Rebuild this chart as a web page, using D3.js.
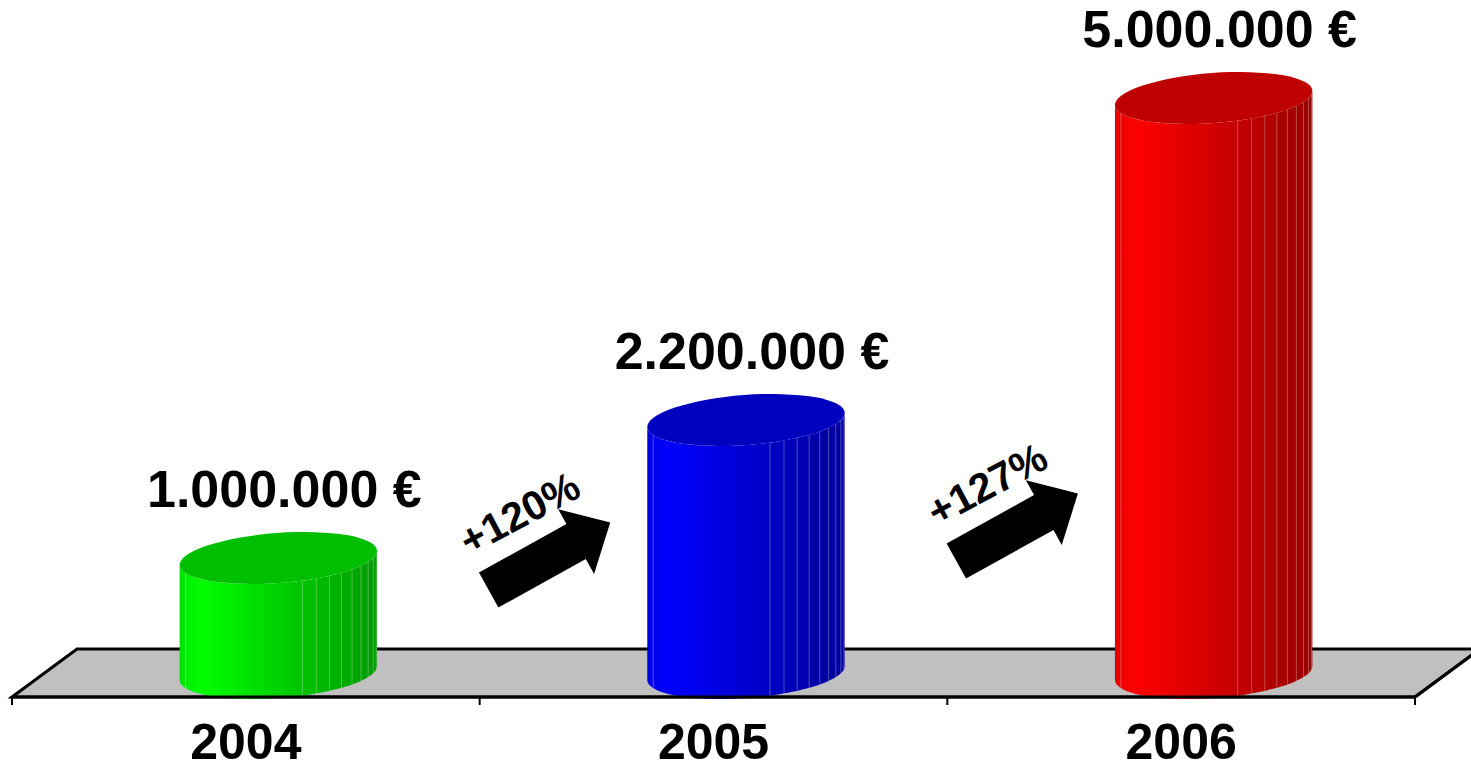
<!DOCTYPE html>
<html>
<head>
<meta charset="utf-8">
<script src="https://cdn.jsdelivr.net/npm/d3@7"></script>
<style>
  body { margin: 0; background: #fff; }
  svg { display: block; font-family: "Liberation Sans", Arial, sans-serif; }
</style>
</head>
<body>
<svg id="chart" width="1471" height="771"></svg>
<script>
// data
const years = ["2004", "2005", "2006"];
const revenue = [1000000, 2200000, 5000000];
const barColors = ["#00ff00", "#0000ff", "#ff0000"];

// layout
const floorLeft = 12, floorRight = 1415, floorFront = 697;
const depthX = 65, depthY = 48;
const rx = 99, ry = 25, tilt = -4.3 * Math.PI / 180;
const arrowBaseY = [590, 561];

const svg = d3.select("#chart");
const defs = svg.append("defs");

const x = d3.scaleBand().domain(years).range([floorLeft, floorRight]);
const y = d3.scaleLinear()
    .domain([0, d3.max(revenue)])
    .range([floorFront - depthY / 2, 98]);

const euro = d3.formatLocale({
    decimal: ",", thousands: ".", grouping: [3], currency: ["", " €"]
}).format("$,");
const pct = d3.format("+.0%");

const cxOf = d => x(d) + x.bandwidth() / 2 + depthX / 2;

// point on tilted ellipse
function ep(cx, cy, t) {
    return [
        cx + rx * Math.cos(t) * Math.cos(tilt) - ry * Math.sin(t) * Math.sin(tilt),
        cy + rx * Math.cos(t) * Math.sin(tilt) + ry * Math.sin(t) * Math.cos(tilt)
    ];
}

// floor
svg.append("path")
    .attr("d", d3.line()([
        [floorLeft, floorFront],
        [floorLeft + depthX, floorFront - depthY],
        [floorRight + depthX, floorFront - depthY],
        [floorRight, floorFront]
    ]) + "Z")
    .attr("fill", "#c0c0c0")
    .attr("stroke", "#000")
    .attr("stroke-width", 3)
    .attr("stroke-linejoin", "miter");

// shading across the front of a cylinder, f = 0 left .. 1 right
function light(f) {
    if (f < 0.1) return 0.88 + 1.2 * f;
    return 1 - 0.4 * (f - 0.1) / 0.9;
}
const shade = (c, k) => {
    const r = d3.rgb(c);
    return d3.rgb(r.r * k, r.g * k, r.b * k).formatHex();
};
const fOf = a => (1 - Math.cos(a)) / 2;
const smoothEnd = 103 * Math.PI / 180;
const facetCount = 9;
const facetAngles = d3.range(facetCount + 1).map(k => smoothEnd + k * (Math.PI - smoothEnd) / facetCount);

const bars = svg.selectAll(".bar")
    .data(years.map((d, i) => ({ year: d, value: revenue[i], color: barColors[i], i })))
    .join("g")
    .attr("class", "bar");

bars.each(function (d) {
    const g = d3.select(this);
    const cx = cxOf(d.year);
    const yTop = y(d.value), yBot = y(0);

    // gradient
    const grad = defs.append("linearGradient")
        .attr("id", "grad" + d.i)
        .attr("gradientUnits", "userSpaceOnUse")
        .attr("x1", cx - rx).attr("x2", cx + rx)
        .attr("y1", 0).attr("y2", 0);
    d3.range(0, smoothEnd + 0.001, smoothEnd / 12).forEach(a => {
        grad.append("stop").attr("offset", fOf(a)).attr("stop-color", shade(d.color, light(fOf(a))));
    });
    for (let k = 0; k < facetCount; k++) {
        const a0 = facetAngles[k], a1 = facetAngles[k + 1];
        const c = shade(d.color, light(fOf((a0 + a1) / 2)));
        grad.append("stop").attr("offset", fOf(a0)).attr("stop-color", c);
        grad.append("stop").attr("offset", fOf(a1)).attr("stop-color", c);
    }

    // body
    const ts = d3.range(0, 61).map(k => Math.PI - k * Math.PI / 60);
    const pts = [ep(cx, yTop, Math.PI)]
        .concat(ts.map(t => ep(cx, yBot, t)))
        .concat(ts.slice().reverse().map(t => ep(cx, yTop, t)));
    g.append("path")
        .attr("d", d3.line()(pts) + "Z")
        .attr("fill", `url(#grad${d.i})`);

    // facet edges
    const edges = [19 * Math.PI / 180].concat(facetAngles.slice(0, facetCount));
    g.selectAll(".edge")
        .data(edges)
        .join("line")
        .attr("class", "edge")
        .attr("x1", a => ep(cx, yTop, Math.PI - a)[0])
        .attr("y1", a => ep(cx, yTop, Math.PI - a)[1])
        .attr("x2", a => ep(cx, yBot, Math.PI - a)[0])
        .attr("y2", a => ep(cx, yBot, Math.PI - a)[1])
        .attr("stroke", "#fff")
        .attr("stroke-opacity", 0.3)
        .attr("stroke-width", 1);

    // top
    g.append("ellipse")
        .attr("cx", 0).attr("cy", 0)
        .attr("rx", rx).attr("ry", ry)
        .attr("transform", `translate(${cx},${yTop}) rotate(${tilt * 180 / Math.PI})`)
        .attr("fill", shade(d.color, 0.75));

    // value label
    g.append("text")
        .attr("x", cx + 6)
        .attr("y", yTop - 51)
        .attr("text-anchor", "middle")
        .attr("font-size", 52)
        .attr("font-weight", "bold")
        .text(euro(d.value));
});

// axis line and ticks
svg.append("line")
    .attr("x1", floorLeft).attr("x2", floorRight)
    .attr("y1", floorFront).attr("y2", floorFront)
    .attr("stroke", "#000").attr("stroke-width", 3);

svg.selectAll(".tick")
    .data(years.map(d => x(d)).concat([x.range()[1]]))
    .join("line")
    .attr("class", "tick")
    .attr("x1", d => d).attr("x2", d => d)
    .attr("y1", floorFront).attr("y2", floorFront + 8)
    .attr("stroke", "#000").attr("stroke-width", 2);

svg.append("line")
    .attr("x1", floorRight).attr("y1", floorFront)
    .attr("x2", floorRight + depthX).attr("y2", floorFront - depthY)
    .attr("stroke", "#000").attr("stroke-width", 3);

svg.selectAll(".year")
    .data(years)
    .join("text")
    .attr("class", "year")
    .attr("x", d => x(d) + x.bandwidth() / 2)
    .attr("y", 759)
    .attr("text-anchor", "middle")
    .attr("font-size", 50)
    .attr("font-weight", "bold")
    .text(d => d);

// growth arrows
const growth = revenue.slice(1).map((v, i) => ({ year: years[i + 1], rate: v / revenue[i] - 1, i }));

const arrows = svg.selectAll(".growth")
    .data(growth)
    .join("g")
    .attr("class", "growth")
    .attr("transform", d => `translate(${x(d.year) + 9},${arrowBaseY[d.i]}) rotate(-29)`);

arrows.append("path")
    .attr("d", d3.line()([[0, -20], [100, -20], [100, -37], [139, 0], [100, 37], [100, 20], [0, 20]]) + "Z")
    .attr("fill", "#000");

arrows.append("text")
    .attr("transform", "translate(64,-38) rotate(1)")
    .attr("text-anchor", "middle")
    .attr("font-size", 41)
    .attr("font-weight", "bold")
    .text(d => pct(d.rate));
</script>
</body>
</html>
